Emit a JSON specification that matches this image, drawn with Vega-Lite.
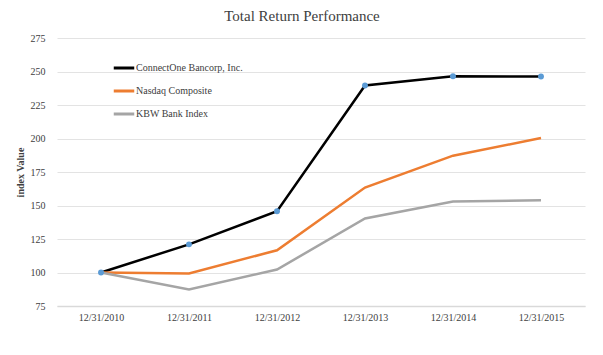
{
  "$schema": "https://vega.github.io/schema/vega-lite/v6.json",
  "width": 528,
  "height": 268,
  "autosize": {"type": "none"},
  "padding": {"left": 57, "top": 38, "right": 18, "bottom": 49},
  "background": "white",
  "title": {
    "text": "Total Return Performance",
    "font": "Liberation Serif, serif",
    "fontSize": 15,
    "fontWeight": "normal",
    "color": "#404040",
    "anchor": "middle",
    "dx": -19,
    "offset": 9
  },
  "config": {
    "view": {"stroke": null},
    "font": "Liberation Serif, serif"
  },
  "data": {
    "values": [
      {"date": "12/31/2010", "series": "ConnectOne Bancorp, Inc.", "value": 100},
      {"date": "12/31/2011", "series": "ConnectOne Bancorp, Inc.", "value": 121},
      {"date": "12/31/2012", "series": "ConnectOne Bancorp, Inc.", "value": 145.7},
      {"date": "12/31/2013", "series": "ConnectOne Bancorp, Inc.", "value": 239.6},
      {"date": "12/31/2014", "series": "ConnectOne Bancorp, Inc.", "value": 246.4},
      {"date": "12/31/2015", "series": "ConnectOne Bancorp, Inc.", "value": 246.3},
      {"date": "12/31/2010", "series": "Nasdaq Composite", "value": 100},
      {"date": "12/31/2011", "series": "Nasdaq Composite", "value": 99.2},
      {"date": "12/31/2012", "series": "Nasdaq Composite", "value": 116.6},
      {"date": "12/31/2013", "series": "Nasdaq Composite", "value": 163.4},
      {"date": "12/31/2014", "series": "Nasdaq Composite", "value": 187.2},
      {"date": "12/31/2015", "series": "Nasdaq Composite", "value": 200.3},
      {"date": "12/31/2010", "series": "KBW Bank Index", "value": 100},
      {"date": "12/31/2011", "series": "KBW Bank Index", "value": 87.3},
      {"date": "12/31/2012", "series": "KBW Bank Index", "value": 102.2},
      {"date": "12/31/2013", "series": "KBW Bank Index", "value": 140.3},
      {"date": "12/31/2014", "series": "KBW Bank Index", "value": 153},
      {"date": "12/31/2015", "series": "KBW Bank Index", "value": 153.9}
    ]
  },
  "encoding": {
    "x": {
      "field": "date",
      "type": "ordinal",
      "sort": null,
      "scale": {"type": "point", "padding": 0.5},
      "axis": {
        "title": null,
        "labelAngle": 0,
        "labelFont": "Liberation Serif, serif",
        "labelFontSize": 10,
        "labelColor": "#404040",
        "labelPadding": 6,
        "ticks": false,
        "domainColor": "#d9d9d9",
        "domainWidth": 1.5,
        "grid": false
      }
    },
    "y": {
      "field": "value",
      "type": "quantitative",
      "scale": {"domain": [75, 275], "nice": false, "zero": false},
      "axis": {
        "values": [75, 100, 125, 150, 175, 200, 225, 250, 275],
        "title": "index Value",
        "titleFont": "Liberation Serif, serif",
        "titleFontSize": 10,
        "titleFontWeight": "bold",
        "titleColor": "#404040",
        "titlePadding": 5,
        "labelFont": "Liberation Serif, serif",
        "labelFontSize": 10,
        "labelColor": "#404040",
        "labelPadding": 12,
        "ticks": false,
        "domain": false,
        "gridColor": "#e3e3e3",
        "gridWidth": 1
      }
    }
  },
  "layer": [
    {
      "mark": {"type": "line", "strokeWidth": 2.5},
      "encoding": {
        "color": {
          "field": "series",
          "type": "nominal",
          "sort": ["ConnectOne Bancorp, Inc.", "Nasdaq Composite", "KBW Bank Index"],
          "scale": {
            "domain": ["ConnectOne Bancorp, Inc.", "Nasdaq Composite", "KBW Bank Index"],
            "range": ["#000000", "#ED7D31", "#A5A5A5"]
          },
          "legend": {
            "title": null,
            "orient": "none",
            "legendX": 55,
            "legendY": 18,
            "symbolType": "stroke",
            "symbolSize": 420,
            "symbolStrokeWidth": 3,
            "labelFont": "Liberation Serif, serif",
            "labelFontSize": 10,
            "labelColor": "#404040",
            "labelOffset": 0,
            "rowPadding": 5
          }
        }
      }
    },
    {
      "transform": [{"filter": "datum.series === 'ConnectOne Bancorp, Inc.'"}],
      "mark": {"type": "point", "filled": true, "size": 35, "color": "#5B9BD5", "opacity": 1}
    }
  ]
}
